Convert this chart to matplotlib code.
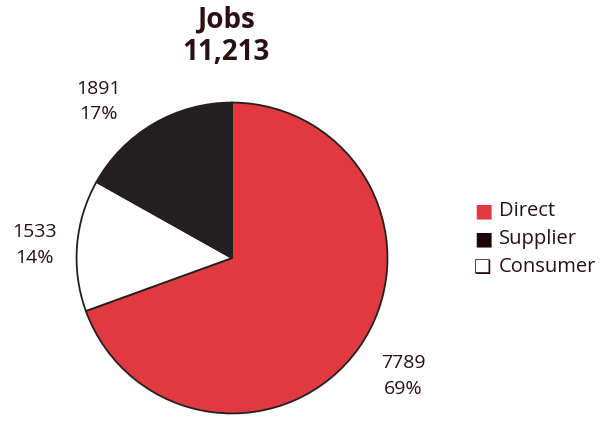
import matplotlib
matplotlib.use("Agg")
import matplotlib.pyplot as plt

plt.rcParams['font.family'] = ['Open Sans', 'DejaVu Sans']

categories = ["Direct", "Consumer", "Supplier"]
values = [7789, 1533, 1891]
percents = ["69%", "14%", "17%"]
legend_order = ["Direct", "Supplier", "Consumer"]
legend_glyphs = ["\u25A0", "\u25A0", "\u2751"]
total_label = "11,213"
title = "Jobs"

colors = {"Direct": "#e03a40", "Consumer": "#ffffff", "Supplier": "#231f20"}
text_color = "#2a1014"
edge_color = "#231f20"

fig = plt.figure(figsize=(6.0, 4.21), dpi=100)
ax = fig.add_axes([75 / 600, 6 / 421, 314 / 600, 314 / 421])

ax.pie(values, colors=[colors[c] for c in categories], startangle=90,
       counterclock=False, radius=1.0,
       wedgeprops=dict(edgecolor=edge_color, linewidth=1.3))
ax.set_xlim(-1.01, 1.01)
ax.set_ylim(-1.01, 1.01)
ax.set_aspect('equal')
ax.axis('off')

# value / share annotations beside each slice
label_pos = {"Direct": (1.10, -0.76), "Consumer": (-1.27, 0.083), "Supplier": (-0.86, 1.006)}
for cat, v, p in zip(categories, values, percents):
    x, y = label_pos[cat]
    ax.text(x, y, f"{v}\n{p}", ha='center', va='center', fontsize=14,
            color=text_color, linespacing=1.55)

fig.text(226 / 600, 1 - 20 / 421, title, ha='center', va='center',
         fontsize=20, fontweight='bold', color=text_color)
fig.text(226 / 600, 1 - 52 / 421, total_label, ha='center', va='center',
         fontsize=20, fontweight='bold', color=text_color)

# legend drawn as glyph + label rows
leg_y = [211, 239, 267]
for name, glyph, y in zip(legend_order, legend_glyphs, leg_y):
    gcol = colors[name] if name != "Consumer" else text_color
    if name == "Supplier":
        gcol = "#1e0508"
    fig.text(483 / 600, 1 - y / 421, glyph, ha='center', va='center',
             fontsize=14, color=gcol, family=['DejaVu Sans'])
    fig.text(499 / 600, 1 - y / 421, name, ha='left', va='center',
             fontsize=14.5, color=text_color)

fig.savefig("out.png", dpi=100)
